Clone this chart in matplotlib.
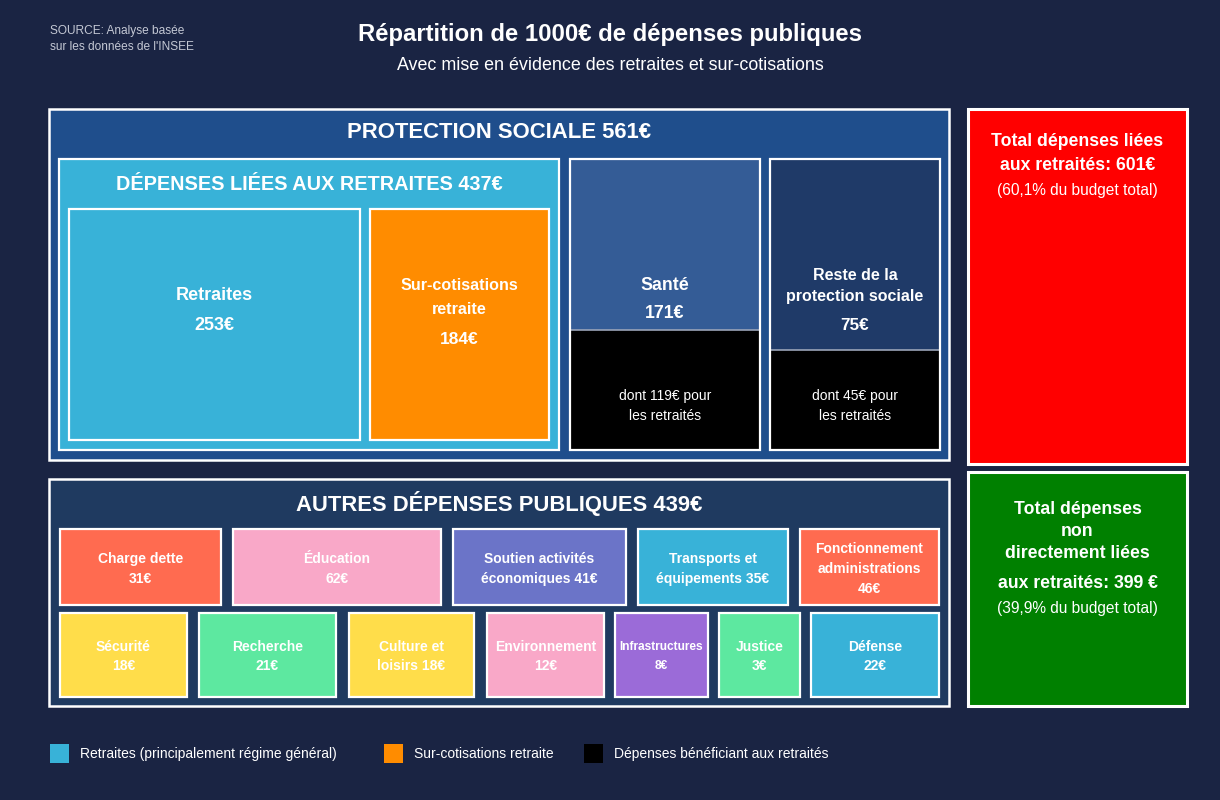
import matplotlib
matplotlib.use("Agg")
import matplotlib.pyplot as plt
from matplotlib.patches import Rectangle

plt.rcParams['font.family'] = ['Liberation Sans', 'DejaVu Sans']

# ---------------- DATA ----------------
title = "Répartition de 1000€ de dépenses publiques"
subtitle = "Avec mise en évidence des retraites et sur-cotisations"
source = "SOURCE: Analyse basée\nsur les données de l'INSEE"

protection_total = 561
retraites_total = 437
retraites_value = 253
surcotis_value = 184
sante_value = 171
sante_retired = 119
reste_value = 75
reste_retired = 45

autres_total = 439
autres_names = ['Charge dette', 'Éducation', 'Soutien activités\néconomiques',
                'Transports et\néquipements', 'Fonctionnement\nadministrations',
                'Sécurité', 'Recherche', 'Culture et\nloisirs', 'Environnement',
                'Infrastructures', 'Justice', 'Défense']
autres_values = [31, 62, 41, 35, 46, 18, 21, 18, 12, 8, 3, 22]

total_retired = 601
total_non_retired = 399
pct_retired = "60,1"
pct_non_retired = "39,9"

legend_labels = ['Retraites (principalement régime général)',
                 'Sur-cotisations retraite',
                 'Dépenses bénéficiant aux retraités']

# ---------------- LAYOUT / STYLE ----------------
BG = '#1a2443'
W, H = 1220, 800
C_LBLUE = '#38b2d8'
C_ORANGE = '#ff8c00'
C_PROT = '#1f4e8c'
C_AUTRES = '#1f3a60'
C_SANTE = '#345c96'
C_RESTE = '#1f3a68'
C_TOMATO = '#ff6b50'
C_PINK = '#f9a8c8'
C_SLATE = '#6b74c8'
C_YELLOW = '#ffdd4a'
C_GREEN = '#5de8a0'
C_PURPLE = '#9b6bd8'

autres_colors = [C_TOMATO, C_PINK, C_SLATE, C_LBLUE, C_TOMATO,
                 C_YELLOW, C_GREEN, C_YELLOW, C_PINK, C_PURPLE, C_GREEN, C_LBLUE]
autres_x = [(60, 221), (233, 441), (453, 626), (638, 788), (800, 939),
            (60, 187), (199, 336), (349, 474), (487, 604), (615, 708), (719, 800), (811, 939)]
autres_row = [0, 0, 0, 0, 0, 1, 1, 1, 1, 1, 1, 1]
rows_y = [(529, 605), (613, 697)]
value_inline = [False, False, True, True, False, False, False, True, False, False, False, False]

fig = plt.figure(figsize=(12.2, 8), dpi=100, facecolor=BG)
ax = fig.add_axes([0, 0, 1, 1])
ax.set_xlim(0, W)
ax.set_ylim(H, 0)
ax.axis('off')
ax.set_facecolor(BG)


def box(x0, y0, x1, y1, fc, ec='white', lw=1.6, z=1):
    ax.add_patch(Rectangle((x0, y0), x1 - x0, y1 - y0, facecolor=fc,
                           edgecolor=ec, linewidth=lw, zorder=z))


def txt(x, y, s, size, bold=False, color='white', ha='center', z=10):
    ax.text(x, y, s, fontsize=size, fontweight='bold' if bold else 'normal',
            color=color, ha=ha, va='center', zorder=z)


# header
txt(610, 34, title, 17.2, bold=True)
txt(610, 65, subtitle, 12.9)
ax.text(50, 39, source, fontsize=8.6, color='#c4c8d4', ha='left', va='center',
        linespacing=1.4)

# Protection sociale
box(49, 109, 949, 460, C_PROT, lw=1.8)
txt(499, 133, f"PROTECTION SOCIALE {protection_total}€", 15.9, bold=True)

box(59, 159, 559, 450, C_LBLUE, lw=1.6, z=2)
txt(309, 185, f"DÉPENSES LIÉES AUX RETRAITES {retraites_total}€", 14.3, bold=True, z=11)

box(69, 209, 360, 440, C_LBLUE, lw=1.6, z=3)
txt(214.5, 295, "Retraites", 13, bold=True)
txt(214.5, 325, f"{retraites_value}€", 13, bold=True)

box(370, 209, 549, 440, C_ORANGE, lw=1.6, z=3)
txt(459.5, 285, "Sur-cotisations", 11.6, bold=True)
txt(459.5, 310, "retraite", 11.6, bold=True)
txt(459.5, 339, f"{surcotis_value}€", 12.5, bold=True)

# Santé
box(570, 159, 760, 330, C_SANTE, ec='none', lw=0, z=2)
box(570, 330, 760, 450, 'black', ec='none', lw=0, z=2)
ax.plot([570, 760], [330, 330], color='#9aa4b8', lw=1.2, zorder=4)
box(570, 159, 760, 450, 'none', lw=1.6, z=5)
txt(665, 285, "Santé", 12.8, bold=True)
txt(665, 314, f"{sante_value}€", 12.8, bold=True)
txt(665, 396, f"dont {sante_retired}€ pour", 10)
txt(665, 416, "les retraités", 10)

# Reste
box(770, 159, 940, 350, C_RESTE, ec='none', lw=0, z=2)
box(770, 350, 940, 450, 'black', ec='none', lw=0, z=2)
ax.plot([770, 940], [350, 350], color='#9aa4b8', lw=1.2, zorder=4)
box(770, 159, 940, 450, 'none', lw=1.6, z=5)
txt(855, 275, "Reste de la", 11.5, bold=True)
txt(855, 296, "protection sociale", 11.5, bold=True)
txt(855, 325, f"{reste_value}€", 12.3, bold=True)
txt(855, 396, f"dont {reste_retired}€ pour", 10)
txt(855, 416, "les retraités", 10)

# Autres dépenses
box(49, 479, 949, 706, C_AUTRES, lw=1.8)
txt(499, 504, f"AUTRES DÉPENSES PUBLIQUES {autres_total}€", 15.8, bold=True)

for name, val, col, (x0, x1), r, inl in zip(autres_names, autres_values, autres_colors,
                                           autres_x, autres_row, value_inline):
    y0, y1 = rows_y[r]
    box(x0, y0, x1, y1, col, lw=1.6, z=3)
    label = f"{name} {val}€" if inl else f"{name}\n{val}€"
    lines = label.split('\n')
    cy = (y0 + y1) / 2 + (2 if r == 0 else 1.5)
    sp = 19.8
    size = 8.6 if name == 'Infrastructures' else 10
    n = len(lines)
    for i, ln in enumerate(lines):
        txt((x0 + x1) / 2, cy + (i - (n - 1) / 2) * sp, ln, size, bold=True)

# Right totals
box(968, 109, 1187, 464, '#ff0000', lw=2.2)
txt(1077.5, 141, "Total dépenses liées", 12.7, bold=True)
txt(1077.5, 165, f"aux retraités: {total_retired}€", 12.7, bold=True)
txt(1077.5, 190, f"({pct_retired}% du budget total)", 11.2)

box(968, 472, 1187, 706, '#008000', lw=2.2)
txt(1077.5, 509, "Total dépenses", 12.7, bold=True)
txt(1077.5, 532, "non", 12.7, bold=True)
txt(1077.5, 554, "directement liées", 12.7, bold=True)
txt(1077.5, 583, f"aux retraités: {total_non_retired} €", 12.7, bold=True)
txt(1077.5, 609, f"({pct_non_retired}% du budget total)", 11.2)

# Legend
legend_colors = [C_LBLUE, C_ORANGE, 'black']
legend_x = [50, 384, 584]
for lab, col, lx in zip(legend_labels, legend_colors, legend_x):
    box(lx, 744, lx + 19, 763, col, ec='none', lw=0)
    txt(lx + 30, 754, lab, 10, ha='left')

fig.savefig('out.png', dpi=100, facecolor=BG)
